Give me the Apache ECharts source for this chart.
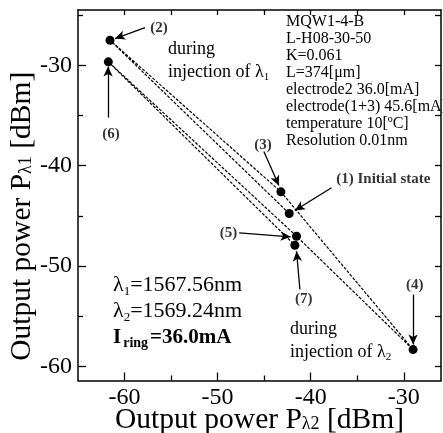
<!DOCTYPE html>
<html><head><meta charset="utf-8">
<script src="https://cdn.jsdelivr.net/npm/echarts@6/dist/echarts.min.js"></script>
<style>html,body{margin:0;padding:0;background:#fff}#c{width:443px;height:433px}</style>
</head><body><div id="c"></div>
<script>
// measured states (1)..(7): x = P_lambda2 [dBm], y = P_lambda1 [dBm]
const stateNames = ['(1)', '(2)', '(3)', '(4)', '(5)', '(6)', '(7)'];
const pLambda2 = [-42.31, -61.56, -43.20, -29.00, -41.52, -61.74, -41.70];
const pLambda1 = [-44.77, -27.51, -42.61, -58.32, -47.03, -29.66, -47.93];

// axis ticks
const xMajorTicks = [-60, -50, -40, -30];
const xMinorTicks = [-55, -45, -35];
const xTopTicks = [-60, -55, -50, -45, -40, -35, -30];
const yMajorTicks = [-60, -50, -40, -30];
const yMinorTicks = [-55, -45, -35, -25];
const yRightTicks = [-60, -55, -50, -45, -40, -35, -30, -25];

// annotation labels (data coordinates of their centres)
const annTexts = ['(1) Initial state', '(2)', '(3)', '(4)', '(5)', '(6)', '(7)'];
const annX = [-32.20, -56.30, -45.13, -28.82, -48.82, -61.45, -40.74];
const annY = [-41.33, -26.29, -38.00, -51.94, -46.69, -36.90, -53.34];

// annotation arrows (data coordinates)
const arrowFromX = [-37.76, -57.80, -45.03, -29.00, -47.68, -61.77, -41.16];
const arrowFromY = [-42.21, -26.25, -38.60, -52.84, -46.69, -35.21, -52.34];
const arrowToX   = [-41.70, -61.02, -43.42, -29.00, -42.16, -61.77, -41.52];
const arrowToY   = [-44.47, -27.34, -41.98, -57.82, -47.09, -30.13, -48.53];

const infoLines = ['MQW1-4-B', 'L-H08-30-50', 'K=0.061', 'L=374[μm]', 'electrode2 36.0[mA]',
  'electrode(1+3) 45.6[mA]', 'temperature 10[ºC]', 'Resolution 0.01nm'];

const SERIF = '"Liberation Serif", "Times New Roman", serif';
const chart = echarts.init(document.getElementById('c'));

const X_MIN = -65, X_MAX = -26, Y_MIN = -61.4, Y_MAX = -24.5;
const axisLineStyle = { color: '#000', width: 1.5 };
const subRich = { s: { fontSize: 18, fontFamily: SERIF, color: '#000', verticalAlign: 'top', padding: [12, 0, 0, 0] } };

function xAx(pos, ticks, len, labels, extra) {
  return Object.assign({
    type: 'value', position: pos, min: X_MIN, max: X_MAX, gridIndex: 0,
    axisLine: { show: true, onZero: false, lineStyle: axisLineStyle },
    axisTick: { show: true, inside: true, length: len, customValues: ticks, lineStyle: { color: '#000', width: 1.3 } },
    axisLabel: labels ? { show: true, customValues: ticks, fontSize: 24, fontFamily: SERIF, color: '#000', margin: 5 } : { show: false },
    splitLine: { show: false }
  }, extra || {});
}
function yAx(pos, ticks, len, labels, extra) {
  return Object.assign({
    type: 'value', position: pos, min: Y_MIN, max: Y_MAX, gridIndex: 0,
    axisLine: { show: true, onZero: false, lineStyle: axisLineStyle },
    axisTick: { show: true, inside: true, length: len, customValues: ticks, lineStyle: { color: '#000', width: 1.3 } },
    axisLabel: labels ? { show: true, customValues: ticks, fontSize: 24, fontFamily: SERIF, color: '#000', margin: 6 } : { show: false },
    splitLine: { show: false }
  }, extra || {});
}

const statePoints = pLambda2.map((x, i) => [x, pLambda1[i]]);
const annData = annTexts.map((t, i) => ({ value: [annX[i], annY[i]], name: t }));
const arrowData = arrowFromX.map((x, i) => [
  { coord: [x, arrowFromY[i]] },
  { coord: [arrowToX[i], arrowToY[i]] }
]);

const option = {
  animation: false,
  backgroundColor: '#fff',
  grid: { left: 78, right: 2, top: 10, bottom: 52.5, containLabel: false, outerBoundsMode: 'none' },
  xAxis: [
    xAx('bottom', xMajorTicks, 8, true, {
      name: 'Output power P{s|λ2} [dBm]', nameLocation: 'middle', nameGap: 23, nameMoveOverlap: false,
      nameTextStyle: { fontSize: 29.5, fontFamily: SERIF, color: '#000', lineHeight: 34, rich: subRich }
    }),
    xAx('bottom', xMinorTicks, 5, false, { axisLine: { show: false } }),
    xAx('top', xTopTicks, 5, false)
  ],
  yAxis: [
    yAx('left', yMajorTicks, 8, true, {
      name: 'Output power P{s|λ1} [dBm]', nameLocation: 'middle', nameGap: 39, nameRotate: 90, nameMoveOverlap: false,
      nameTextStyle: { fontSize: 29.5, fontFamily: SERIF, color: '#000', lineHeight: 34, padding: [0, 42, 0, 0], rich: subRich }
    }),
    yAx('left', yMinorTicks, 5, false, { axisLine: { show: false } }),
    yAx('right', yRightTicks, 6, false)
  ],
  series: [
    {
      type: 'line', xAxisIndex: 0, yAxisIndex: 0, data: statePoints,
      symbol: 'circle', symbolSize: 9, showSymbol: true,
      itemStyle: { color: '#000' },
      lineStyle: { color: '#000', width: 1.2, type: [3, 1.5] },
      emphasis: { disabled: true }, silent: true
    },
    {
      type: 'scatter', xAxisIndex: 0, yAxisIndex: 0, data: annData, symbolSize: 0,
      label: { show: true, position: 'inside', formatter: p => p.name, fontSize: 15, fontWeight: 'bold', fontFamily: SERIF, color: '#000' },
      markLine: {
        silent: true, symbol: ['none', 'arrow'], symbolSize: [7, 10],
        lineStyle: { color: '#000', width: 1.3, type: 'solid' },
        label: { show: false }, emphasis: { disabled: true },
        data: arrowData
      },
      emphasis: { disabled: true }, silent: true
    }
  ],
  graphic: [
    {
      type: 'group', left: 286, top: 14,
      children: infoLines.map((t, i) => ({
        type: 'text', x: 0, y: i * 16.9,
        style: { text: t, fontSize: 16, fontFamily: SERIF, fill: '#000' }
      }))
    },
    { type: 'text', x: 168, y: 40, style: { text: 'during', fontSize: 18, fontFamily: SERIF, fill: '#000' } },
    { type: 'text', x: 168, y: 62, style: { text: 'injection of λ{s|1}', fontSize: 18, fontFamily: SERIF, fill: '#000', rich: { s: { fontSize: 11, fontFamily: SERIF, fill: '#000', verticalAlign: 'top', padding: [10, 0, 0, 0] } } } },
    { type: 'text', x: 290, y: 320, style: { text: 'during', fontSize: 18, fontFamily: SERIF, fill: '#000' } },
    { type: 'text', x: 290, y: 342, style: { text: 'injection of λ{s|2}', fontSize: 18, fontFamily: SERIF, fill: '#000', rich: { s: { fontSize: 11, fontFamily: SERIF, fill: '#000', verticalAlign: 'top', padding: [10, 0, 0, 0] } } } },
    { type: 'text', x: 113, y: 273, style: { text: 'λ{s|1}=1567.56nm', fontSize: 22, fontFamily: SERIF, fill: '#000', rich: { s: { fontSize: 13, fontFamily: SERIF, fill: '#000', verticalAlign: 'top', padding: [12, 0, 0, 0] } } } },
    { type: 'text', x: 113, y: 299, style: { text: 'λ{s|2}=1569.24nm', fontSize: 22, fontFamily: SERIF, fill: '#000', rich: { s: { fontSize: 13, fontFamily: SERIF, fill: '#000', verticalAlign: 'top', padding: [12, 0, 0, 0] } } } },
    { type: 'text', x: 113, y: 326, style: { text: 'I{s|ring}=36.0mA', fontSize: 21, fontWeight: 'bold', fontFamily: SERIF, fill: '#000', rich: { s: { fontSize: 14, fontWeight: 'bold', fontFamily: SERIF, fill: '#000', verticalAlign: 'top', padding: [10, 2, 0, 2] } } } }
  ]
};
chart.setOption(option);
</script>
</body></html>
